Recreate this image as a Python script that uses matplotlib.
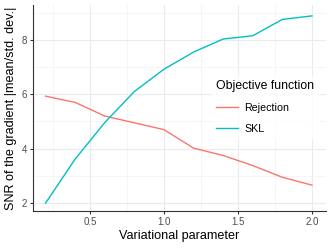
import matplotlib
matplotlib.use("Agg")
import matplotlib.pyplot as plt
from matplotlib.ticker import MultipleLocator

x = [0.2, 0.4, 0.6, 0.8, 1.0, 1.2, 1.4, 1.6, 1.8, 2.0]
rejection = [5.93, 5.70, 5.20, 4.95, 4.70, 4.02, 3.75, 3.38, 2.95, 2.66]
skl = [2.00, 3.62, 4.96, 6.10, 6.92, 7.55, 8.03, 8.15, 8.75, 8.88]
series_names = ["Rejection", "SKL"]
colors = ["#F8766D", "#00BFC4"]

plt.rcParams['font.family'] = ['Liberation Sans', 'DejaVu Sans']
fig = plt.figure(figsize=(3.32, 2.49), dpi=100)
ax = fig.add_axes([33/332, 1 - 211/249, (326-33)/332, (211-5)/249])

ax.plot(x, rejection, color=colors[0], lw=1.0, label=series_names[0])
ax.plot(x, skl, color=colors[1], lw=1.0, label=series_names[1])

ax.set_xlim(0.115, 2.095)
ax.set_ylim(1.71, 9.28)
ax.xaxis.set_major_locator(MultipleLocator(0.5))
ax.xaxis.set_minor_locator(MultipleLocator(0.25))
ax.yaxis.set_major_locator(MultipleLocator(2))
ax.yaxis.set_minor_locator(MultipleLocator(1))
ax.set_xticks([0.5, 1.0, 1.5, 2.0])
ax.set_xticklabels(["0.5", "1.0", "1.5", "2.0"])
ax.grid(which='major', color='#EBEBEB', lw=0.8)
ax.grid(which='minor', color='#F2F2F2', lw=0.5)
ax.set_axisbelow(True)
for s in ['top', 'right']:
    ax.spines[s].set_visible(False)
for s in ['left', 'bottom']:
    ax.spines[s].set_color('#333333')
    ax.spines[s].set_linewidth(0.8)
ax.tick_params(which='major', length=2.5, color='#333333', labelsize=7, labelcolor='#4D4D4D', pad=2)
ax.tick_params(which='minor', length=0)

ax.set_xlabel("Variational parameter", fontsize=9.1, labelpad=2)
ax.set_ylabel("SNR of the gradient |mean/std. dev.|", fontsize=9.1, labelpad=3)

leg = ax.legend(title="Objective function", loc='upper left',
                bbox_to_anchor=(212/332, 1 - 76/249), bbox_transform=fig.transFigure,
                frameon=True, fontsize=7.7, title_fontsize=8.8, handlelength=2.0,
                handletextpad=0.6, labelspacing=1.0, borderpad=0.4, borderaxespad=0,
                fancybox=False)
leg.get_frame().set_edgecolor('white')
leg.get_frame().set_facecolor('white')
leg._legend_box.align = "left"

fig.savefig("out.png", dpi=100)
